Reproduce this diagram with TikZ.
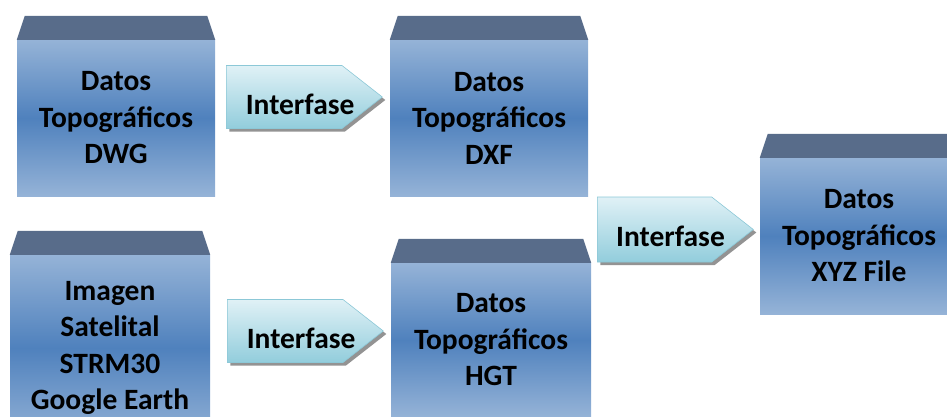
\documentclass[tikz,border=0pt]{standalone}
\usepackage{fontspec}
\setmainfont{Carlito}
\usetikzlibrary{shapes.arrows,shadows}

\definecolor{boxlight}{RGB}{149,179,215}
\definecolor{boxdark}{RGB}{79,129,189}
\definecolor{lidcol}{RGB}{88,108,138}
\definecolor{arrtop}{RGB}{224,241,246}
\definecolor{arrbot}{RGB}{146,205,220}
\definecolor{arredge}{RGB}{140,200,215}

\begin{document}
\begin{tikzpicture}[x=1pt,y=-1pt,
    databox/.style={minimum width=198pt,minimum height=156pt,inner sep=0pt,
                    top color=boxlight,bottom color=boxlight,middle color=boxdark,
                    align=center,font=\fontsize{29.5}{36.5}\selectfont\bfseries},
    iface/.style={single arrow,single arrow head extend=0pt,single arrow tip angle=76,
                  minimum height=156pt,minimum width=63pt,inner sep=0pt,anchor=tail,
                  draw=arredge,line width=0.6pt,top color=arrtop,bottom color=arrbot,
                  drop shadow={shadow xshift=3pt,shadow yshift=-3pt,fill=gray!85,opacity=1}},
    iftext/.style={xshift=16pt,yshift=-7pt,inner sep=0pt,
                   font=\fontsize{29.5}{36.5}\selectfont\bfseries},
    lid/.style={fill=lidcol},
]
\useasboundingbox (0,0) rectangle (947,417);

% ---- Data boxes ----------------------------------------------------------
\node[databox] (dwg) at (116,118) {Datos\\Topográficos\\DWG};
\node[databox] (dxf) at (489,118) {Datos\\Topográficos\\DXF};
\node[databox,minimum width=200pt,minimum height=186pt] (img) at (110,348)
    {Imagen\\Satelital\\STRM30\\Google Earth};
\node[databox,minimum width=200pt,minimum height=154pt] (hgt) at (491,340)
    {Datos\\Topográficos\\HGT};
\node[databox] (xyz) at (859,236) {Datos\\Topográficos\\XYZ File};

% ---- Lids ----------------------------------------------------------------
\foreach \b in {dwg,dxf,img,hgt,xyz}
  \fill[lid] (\b.north west) -- ([xshift=8pt,yshift=24pt]\b.north west)
    -- ([xshift=-8pt,yshift=24pt]\b.north east) -- (\b.north east) -- cycle;

% ---- Interfaces ----------------------------------------------------------
\node[iface,label={[iftext]center:Interfase}] (if1) at (226,97) {};
\node[iface,label={[iftext]center:Interfase}] (if2) at (227,331) {};
\node[iface,minimum width=65pt,label={[iftext]center:Interfase}] (if3) at (597,229.5) {};

\end{tikzpicture}
\end{document}
